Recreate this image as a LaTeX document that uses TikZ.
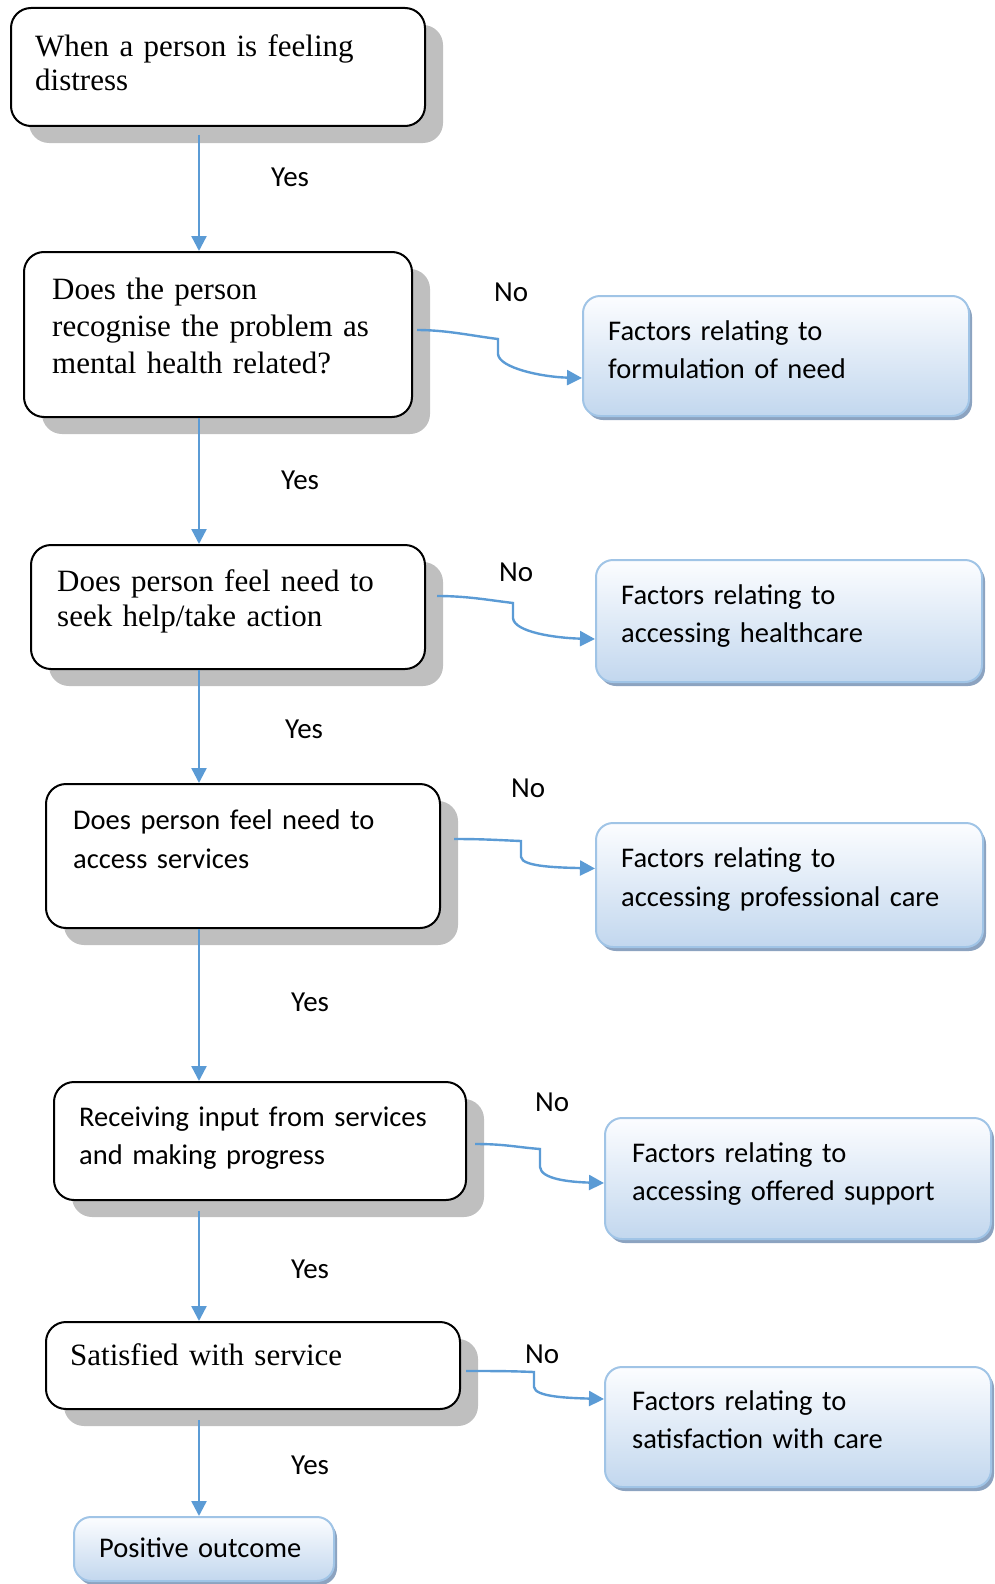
\documentclass[tikz,border=0pt]{standalone}
\usepackage{fontspec}
\setmainfont{Liberation Serif}
\newfontfamily\calfont{Carlito}
\usetikzlibrary{arrows.meta,shadows,calc}

\definecolor{lineblue}{RGB}{91,155,213}
\definecolor{shadowgray}{RGB}{191,191,191}
\definecolor{blueborder}{RGB}{160,196,230}
\definecolor{bluetop}{RGB}{252,253,255}
\definecolor{bluebottom}{RGB}{194,215,238}
\definecolor{blueshadow}{RGB}{140,163,192}

\begin{document}
\begin{tikzpicture}[x={(1pt,0pt)}, y={(0pt,-1pt)},
  qbox/.style={draw=black, line width=2pt, rounded corners=20pt, fill=white,
    anchor=north west, inner sep=0pt,
    drop shadow={shadow xshift=18pt, shadow yshift=-17pt, fill=shadowgray, opacity=1}},
  fbox/.style={draw=blueborder, line width=2pt, rounded corners=17pt,
    top color=bluetop, bottom color=bluebottom, anchor=north west, inner sep=0pt,
    drop shadow={shadow xshift=3pt, shadow yshift=-4pt, fill=blueshadow, opacity=1}},
  sertext/.style={inner sep=0pt, anchor=base west, align=left, text width=380pt,
    font=\fontsize{31}{#1}\selectfont},
  caltext/.style={inner sep=0pt, anchor=base west, align=left, text width=380pt,
    font=\calfont\fontsize{28.5}{#1}\selectfont},
  lab/.style={inner sep=0pt, anchor=base west, font=\calfont\fontsize{29}{34}\selectfont},
  arr/.style={draw=lineblue, line width=2.4pt, -{Triangle[width=15pt,length=15pt]}},
]
\useasboundingbox (0,0) rectangle (994,1584);

% question boxes (left column)
\node[qbox, minimum width=414pt, minimum height=118pt] (w1) at (10,7) {};
\node[qbox, minimum width=388pt, minimum height=165pt] (w2) at (23,251) {};
\node[qbox, minimum width=394pt, minimum height=124pt] (w3) at (30,544) {};
\node[qbox, minimum width=394pt, minimum height=144pt] (w4) at (45,783) {};
\node[qbox, minimum width=412pt, minimum height=118pt] (w5) at (53,1081) {};
\node[qbox, minimum width=414pt, minimum height=87pt] (w6) at (45,1321) {};

% factor boxes (right column) and final outcome
\node[fbox, minimum width=386pt, minimum height=120pt] (f1) at (582,295) {};
\node[fbox, minimum width=386pt, minimum height=122pt] (f2) at (595,559) {};
\node[fbox, minimum width=387pt, minimum height=124pt] (f3) at (595,822) {};
\node[fbox, minimum width=386pt, minimum height=121pt] (f4) at (604,1117) {};
\node[fbox, minimum width=386pt, minimum height=120pt] (f5) at (604,1366) {};
\node[fbox, minimum width=260pt, minimum height=64pt] (pos) at (73,1516) {};

% box texts
\node[sertext=34] (w1t) at (35,57) {When a person is feeling\\distress};
\node[sertext=37] (w2t) at (52,299) {Does the person\\recognise the problem as\\mental health related?};
\node[sertext=35] (w3t) at (57,591) {Does person feel need to\\seek help/take action};
\node[caltext=39] (w4t) at (73,829) {Does person feel need to\\access services};
\node[caltext=38.5] (w5t) at (79,1126) {Receiving input from services\\and making progress};
\node[sertext=37] (w6t) at (70,1365) {Satisfied with service};

\node[caltext=38] (f1t) at (608,340) {Factors relating to\\formulation of need};
\node[caltext=38] (f2t) at (621,604) {Factors relating to\\accessing healthcare};
\node[caltext=39] (f3t) at (621,867) {Factors relating to\\accessing professional care};
\node[caltext=38] (f4t) at (632,1162) {Factors relating to\\accessing offered support};
\node[caltext=38] (f5t) at (632,1410) {Factors relating to\\satisfaction with care};
\node[caltext=34] (post) at (99,1557) {Positive outcome};

% Yes / No labels
\node[lab] (y1) at (271,186) {Yes};
\node[lab] (y2) at (281,489) {Yes};
\node[lab] (y3) at (285,738) {Yes};
\node[lab] (y4) at (291,1011) {Yes};
\node[lab] (y5) at (291,1278) {Yes};
\node[lab] (y6) at (291,1474) {Yes};

\node[lab] (n1) at (494,301) {No};
\node[lab] (n2) at (499,581) {No};
\node[lab] (n3) at (511,797) {No};
\node[lab] (n4) at (535,1111) {No};
\node[lab] (n5) at (525,1363) {No};

% vertical "Yes" arrows
\coordinate (axis) at (199,0);
\draw[arr] ($(axis |- w1.south)+(0,8)$) -- (axis |- w2.north);
\draw[arr] (axis |- w2.south) -- (axis |- w3.north);
\draw[arr] (axis |- w3.south) -- (axis |- w4.north);
\draw[arr] (axis |- w4.south) -- (axis |- w5.north);
\draw[arr] ($(axis |- w5.south)+(0,10)$) -- (axis |- w6.north);
\draw[arr] ($(axis |- w6.south)+(0,10)$) -- (axis |- pos.north);

% kinked "No" connectors
\coordinate (k1a) at (498,339); \coordinate (k1b) at (498,354);
\coordinate (k2a) at (513,603); \coordinate (k2b) at (513,618);
\coordinate (k3a) at (521,841); \coordinate (k3b) at (521,857);
\coordinate (k4a) at (540,1149); \coordinate (k4b) at (540,1167);
\coordinate (k5a) at (534,1372); \coordinate (k5b) at (534,1387);

\draw[arr] ($(w2.east)+(4,-4.5)$) .. controls +(30,0) and +(-25,-3) .. (k1a) -- (k1b)
  .. controls +(1,14) and +(-40,-1) .. ($(f1.west)+(0,22)$);
\draw[arr] ($(w3.east)+(11,-11)$) .. controls +(30,0) and +(-25,-3) .. (k2a) -- (k2b)
  .. controls +(1,14) and +(-40,-1) .. ($(f2.west)+(0,18)$);
\draw[arr] ($(w4.east)+(13,-17)$) .. controls +(30,0) and +(-25,-1) .. (k3a) -- (k3b)
  .. controls +(1,10) and +(-35,-1) .. ($(f3.west)+(0,-16.5)$);
\draw[arr] ($(w5.east)+(8,3)$) .. controls +(30,0) and +(-25,-2) .. (k4a) -- (k4b)
  .. controls +(1,12) and +(-35,-1) .. ($(f4.west)+(0,4.5)$);
\draw[arr] ($(w6.east)+(5,5.5)$) .. controls +(30,0) and +(-25,-1) .. (k5a) -- (k5b)
  .. controls +(1,10) and +(-35,-1) .. ($(f5.west)+(0,-28)$);
\end{tikzpicture}
\end{document}
